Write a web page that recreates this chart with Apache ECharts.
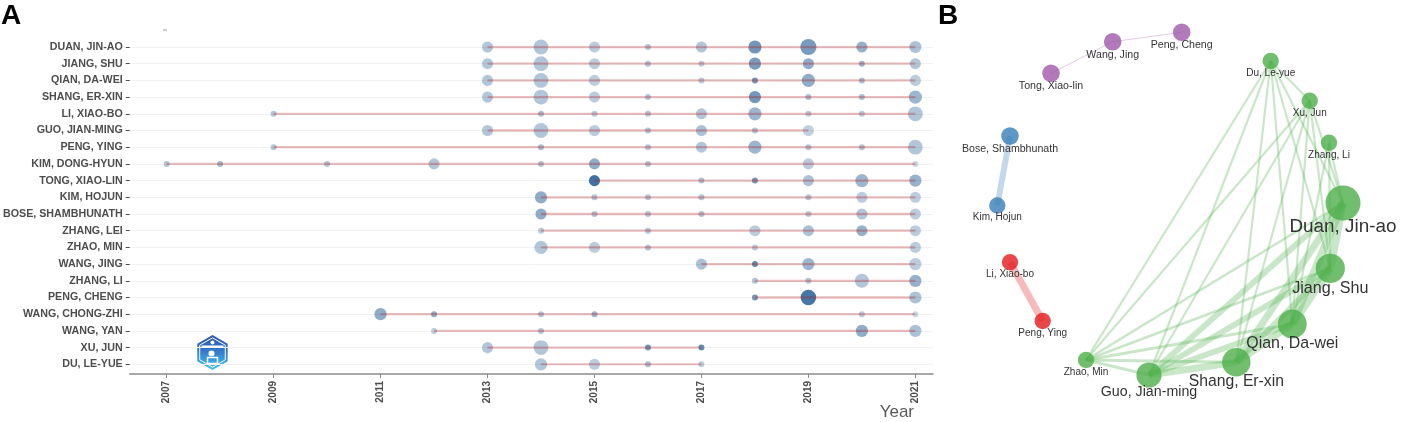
<!DOCTYPE html>
<html><head><meta charset="utf-8">
<script src="https://cdn.jsdelivr.net/npm/echarts@6/dist/echarts.min.js"></script>
<style>html,body{margin:0;padding:0;background:#fff}#c{width:1403px;height:422px}</style>
</head><body><div id="c"></div>
<script>
// ---------- Panel A data ----------
const authors = ['DUAN, JIN-AO','JIANG, SHU','QIAN, DA-WEI','SHANG, ER-XIN','LI, XIAO-BO','GUO, JIAN-MING','PENG, YING','KIM, DONG-HYUN','TONG, XIAO-LIN','KIM, HOJUN','BOSE, SHAMBHUNATH','ZHANG, LEI','ZHAO, MIN','WANG, JING','ZHANG, LI','PENG, CHENG','WANG, CHONG-ZHI','WANG, YAN','XU, JUN','DU, LE-YUE'];
const yearTicks = [2007, 2009, 2011, 2013, 2015, 2017, 2019, 2021];
// each point: [year, articles (freq), total citations per year]
const pDuan = [[2013,3,4],[2014,7,4],[2015,3,3],[2016,1,4],[2017,3,4],[2018,5,13],[2019,9,12],[2020,3,8],[2021,4,5]];
const pJiang = [[2013,3,4],[2014,7,4],[2015,3,3],[2016,1,4],[2017,1,3],[2018,4,12],[2019,3,9],[2020,1,7],[2021,3,4]];
const pQian = [[2013,3,4],[2014,7,4],[2015,3,3],[2017,1,3],[2018,1,13],[2019,5,9],[2020,1,5],[2021,3,3]];
const pShang = [[2013,3,4],[2014,7,4],[2015,3,3],[2016,1,4],[2018,4,13],[2019,1,5],[2020,1,5],[2021,5,7]];
const pLiXiaobo = [[2009,1,4],[2014,1,5],[2015,1,3],[2016,1,4],[2017,3,4],[2018,5,7],[2019,1,3],[2020,1,3],[2021,7,4]];
const pGuo = [[2013,3,4],[2014,7,4],[2015,3,3],[2016,1,4],[2017,3,5],[2018,1,4],[2019,3,2]];
const pPengYing = [[2009,1,4],[2014,1,5],[2016,1,4],[2017,3,4],[2018,5,7],[2019,1,4],[2020,1,4],[2021,7,4]];
const pKimDH = [[2007,1,4],[2008,1,6],[2010,1,4],[2012,3,4],[2014,1,4],[2015,3,9],[2016,1,4],[2019,3,3],[2021,1,1]];
const pTong = [[2015,3,20],[2017,1,4],[2018,1,13],[2019,3,5],[2020,5,7],[2021,4,8]];
const pKimHojun = [[2014,4,9],[2015,1,4],[2016,1,4],[2017,1,4],[2019,1,4],[2020,3,3],[2021,3,3]];
const pBose = [[2014,3,9],[2015,1,4],[2016,1,4],[2017,1,4],[2019,1,3],[2020,3,4],[2021,3,3]];
const pZhangLei = [[2014,1,3],[2016,1,4],[2018,3,3],[2019,3,5],[2020,3,8],[2021,3,3]];
const pZhaoMin = [[2014,5,4],[2015,3,3],[2016,1,4],[2018,1,3],[2021,3,3]];
const pWangJing = [[2017,3,5],[2018,1,15],[2019,4,7],[2021,4,3]];
const pZhangLi = [[2018,1,4],[2019,1,4],[2020,6,4],[2021,4,8]];
const pPengCheng = [[2018,1,13],[2019,8,19],[2021,4,5]];
const pWangCZ = [[2011,4,9],[2012,1,9],[2014,1,4],[2015,1,7],[2020,1,3],[2021,1,1]];
const pWangYan = [[2012,1,3],[2014,1,4],[2020,4,9],[2021,4,5]];
const pXuJun = [[2013,3,4],[2014,7,4],[2016,1,13],[2017,1,15]];
const pDuLeyue = [[2014,4,4],[2015,3,3],[2016,1,5],[2017,1,3]];
const authorPoints = [pDuan,pJiang,pQian,pShang,pLiXiaobo,pGuo,pPengYing,pKimDH,pTong,pKimHojun,pBose,pZhangLei,pZhaoMin,pWangJing,pZhangLi,pPengCheng,pWangCZ,pWangYan,pXuJun,pDuLeyue];

// ---------- Panel B data ----------
// [name, layoutX, layoutY, documents, cluster]
const netNodes = [
  ['Peng, Cheng',246.7,32.3,3,'purple'],
  ['Wang, Jing',177.7,41.7,3,'purple'],
  ['Tong, Xiao-lin',116,73.3,3,'purple'],
  ['Du, Le-yue',335.7,61,2,'green'],
  ['Xu, Jun',374.7,100.7,2,'green'],
  ['Zhang, Li',394,142.7,2,'green'],
  ['Bose, Shambhunath',75,136,3,'blue'],
  ['Kim, Hojun',62.3,205.5,2,'blue'],
  ['Duan, Jin-ao',408,203,40,'green'],
  ['Jiang, Shu',395.3,268.3,23,'green'],
  ['Qian, Da-wei',357.3,324,22,'green'],
  ['Shang, Er-xin',301.3,362.3,21,'green'],
  ['Guo, Jian-ming',214,375,14,'green'],
  ['Zhao, Min',151,360,2,'green'],
  ['Li, Xiao-bo',75,262.3,2,'red'],
  ['Peng, Ying',107.7,321,2,'red']
];
// [source, target, weight]
const netLinks = [
  ['Tong, Xiao-lin','Wang, Jing',1],['Wang, Jing','Peng, Cheng',1],
  ['Bose, Shambhunath','Kim, Hojun',6],
  ['Li, Xiao-bo','Peng, Ying',7],
  ['Duan, Jin-ao','Jiang, Shu',8],['Duan, Jin-ao','Qian, Da-wei',8],['Duan, Jin-ao','Shang, Er-xin',7],['Duan, Jin-ao','Guo, Jian-ming',6],
  ['Jiang, Shu','Qian, Da-wei',8],['Jiang, Shu','Shang, Er-xin',6],['Jiang, Shu','Guo, Jian-ming',6],
  ['Qian, Da-wei','Shang, Er-xin',7],['Qian, Da-wei','Guo, Jian-ming',6],['Shang, Er-xin','Guo, Jian-ming',7],
  ['Du, Le-yue','Duan, Jin-ao',2.2],['Du, Le-yue','Jiang, Shu',2.2],['Du, Le-yue','Qian, Da-wei',2.2],['Du, Le-yue','Shang, Er-xin',2.2],['Du, Le-yue','Guo, Jian-ming',2.2],['Du, Le-yue','Zhao, Min',2.2],['Du, Le-yue','Xu, Jun',2.2],
  ['Xu, Jun','Duan, Jin-ao',2.2],['Xu, Jun','Jiang, Shu',2.2],['Xu, Jun','Qian, Da-wei',2.2],['Xu, Jun','Shang, Er-xin',2.2],['Xu, Jun','Guo, Jian-ming',2.2],['Xu, Jun','Zhao, Min',2.2],
  ['Zhang, Li','Duan, Jin-ao',2.2],['Zhang, Li','Jiang, Shu',2.2],['Zhang, Li','Qian, Da-wei',2.2],
  ['Zhao, Min','Duan, Jin-ao',2.6],['Zhao, Min','Jiang, Shu',2.6],['Zhao, Min','Qian, Da-wei',3],['Zhao, Min','Shang, Er-xin',3],['Zhao, Min','Guo, Jian-ming',3]
];

// ---------- build ----------
const FONT = '"Liberation Sans", Arial, sans-serif';
const maxTC = 20;
const scatterData = [];
const lineSeries = [];
authors.forEach((a, i) => {
  const pts = authorPoints[i];
  pts.forEach(p => scatterData.push([p[0], a, p[1], p[2]]));
  const ys = pts.map(p => p[0]);
  lineSeries.push({
    type: 'line', xAxisIndex: 0, yAxisIndex: 0, z: 3, clip: false, silent: true,
    showSymbol: false, symbol: 'none',
    lineStyle: { color: 'rgba(178,34,34,0.3)', width: 2.3 },
    data: [[Math.min(...ys), a], [Math.max(...ys), a]]
  });
});

const clusterNode = { green: 'rgba(77,175,74,0.8)', purple: 'rgba(152,78,163,0.75)', blue: 'rgba(55,126,184,0.8)', red: 'rgba(228,26,28,0.8)' };
const clusterEdge = { green: 'rgba(77,175,74,0.3)', purple: 'rgba(152,78,163,0.3)', blue: 'rgba(55,126,184,0.3)', red: 'rgba(228,26,28,0.3)' };
const groupOf = {};
netNodes.forEach(n => groupOf[n[0]] = n[4]);
const graphNodes = netNodes.map(n => {
  const d = 11 + 3.8 * Math.sqrt(n[3]);
  const fs = 7.5 + 1.8 * Math.sqrt(n[3]);
  return {
    name: n[0], value: [n[1], n[2]], symbolSize: d,
    itemStyle: { color: clusterNode[n[4]] },
    label: { show: true, position: 'bottom', distance: 1 - 0.13 * d, fontSize: fs, color: '#333', fontFamily: FONT }
  };
});
const graphLinks = netLinks.map(l => ({
  source: l[0], target: l[1],
  lineStyle: { width: l[2], color: clusterEdge[groupOf[l[0]]], opacity: 1, curveness: 0 }
}));

const hexR = 17.5, hexW = 15.2, hcx = 212.5, hcy = 352.5;
const hex = (s) => [[hcx, hcy - hexR*s],[hcx + hexW*s, hcy - hexR*s/2],[hcx + hexW*s, hcy + hexR*s/2],[hcx, hcy + hexR*s],[hcx - hexW*s, hcy + hexR*s/2],[hcx - hexW*s, hcy - hexR*s/2]];

const chart = echarts.init(document.getElementById('c'), null, { renderer: 'canvas' });
chart.setOption({
  animation: false,
  backgroundColor: '#fff',
  textStyle: { fontFamily: FONT },
  grid: [
    { left: 128, top: 47, width: 805, height: 317.3 },
    { left: 935, top: 0, width: 468, height: 422 }
  ],
  xAxis: [
    { type: 'value', gridIndex: 0, min: 2006.31, max: 2021.33, offset: 9.7,
      axisLine: { show: true, lineStyle: { color: '#8c8c8c', width: 1.5 } },
      axisTick: { show: true, length: 4, customValues: yearTicks, lineStyle: { color: '#8c8c8c' } },
      axisLabel: { customValues: yearTicks, formatter: v => String(Math.round(v)), rotate: 90, margin: 7, fontSize: 10, fontWeight: 'bold', color: '#4d4d4d', fontFamily: FONT },
      splitLine: { show: false } },
    { type: 'value', gridIndex: 1, min: 0, max: 468, show: false }
  ],
  yAxis: [
    { type: 'category', gridIndex: 0, data: authors, inverse: true, boundaryGap: false,
      axisLine: { show: false },
      axisTick: { show: true, length: 4, interval: 0, lineStyle: { color: '#4d4d4d' } },
      axisLabel: { interval: 0, margin: 7, fontSize: 10.7, fontWeight: 'bold', color: '#4d4d4d', fontFamily: FONT },
      splitLine: { show: true, interval: 0, lineStyle: { color: '#f2f2f2', width: 1 } } },
    { type: 'value', gridIndex: 1, min: 0, max: 422, inverse: true, show: false }
  ],
  series: [
    { type: 'scatter', xAxisIndex: 0, yAxisIndex: 0, z: 2, clip: false, silent: true,
      data: scatterData,
      symbolSize: v => 6 + 3.6 * Math.sqrt(v[2] - 1),
      itemStyle: { color: p => 'rgba(16,78,139,' + (0.25 + 0.75 * p.value[3] / maxTC).toFixed(3) + ')' } },
    ...lineSeries,
    { type: 'graph', layout: 'none', coordinateSystem: 'cartesian2d', xAxisIndex: 1, yAxisIndex: 1,
      silent: true, roam: false, z: 2,
      data: graphNodes, links: graphLinks,
      lineStyle: { opacity: 1 },
      emphasis: { disabled: true } }
  ],
  graphic: [
    { type: 'text', left: 1, top: 2, style: { text: 'A', fontSize: 28, fontWeight: 'bold', fill: '#000', fontFamily: FONT } },
    { type: 'text', left: 938, top: 2, style: { text: 'B', fontSize: 28, fontWeight: 'bold', fill: '#000', fontFamily: FONT } },
    { type: 'text', right: 1403 - 914, top: 404, style: { text: 'Year', fontSize: 17, fill: '#5a5a5a', fontFamily: FONT } },
    { type: 'line', shape: { x1: 163, y1: 30, x2: 167, y2: 30 }, style: { stroke: '#999', lineWidth: 1 } },
    { type: 'polygon', shape: { points: hex(1) },
      style: { fill: new echarts.graphic.LinearGradient(0, 0, 0, 1, [{ offset: 0, color: '#2f55ad' }, { offset: 0.45, color: '#3577c9' }, { offset: 1, color: '#3fc6f5' }]) } },
    { type: 'polygon', shape: { points: hex(0.84) }, style: { fill: 'none', stroke: '#ffffff', lineWidth: 1 } },
    { type: 'rect', shape: { x: hcx - 11, y: hcy - 7, width: 22, height: 2 }, style: { fill: '#ffffff' } },
    { type: 'circle', shape: { cx: hcx, cy: hcy - 10, r: 2 }, style: { fill: '#ffffff' } },
    { type: 'circle', shape: { cx: hcx - 1, cy: hcy + 1, r: 3 }, style: { fill: '#ffffff' } },
    { type: 'rect', shape: { x: hcx - 5, y: hcy + 5, width: 10, height: 6 }, style: { fill: 'none', stroke: '#ffffff', lineWidth: 1.5 } }
  ]
});
</script>
</body></html>
